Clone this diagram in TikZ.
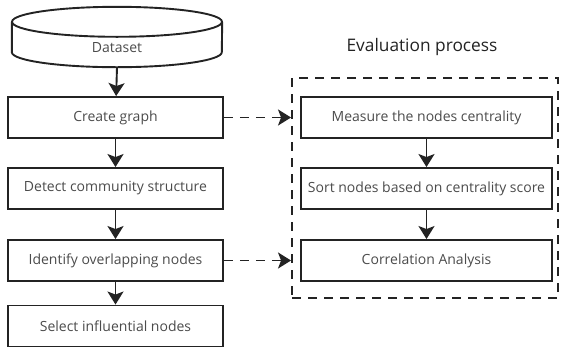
\documentclass[tikz,border=0pt]{standalone}
\usepackage{fontspec}
\setmainfont{Open Sans}
\usetikzlibrary{arrows.meta,positioning,fit}
\definecolor{ln}{RGB}{35,35,35}
\definecolor{tx}{RGB}{75,75,75}
\tikzset{stepbox/.style={draw=ln,line width=1.9pt,minimum width=215pt,minimum height=41pt,inner sep=0pt,text=tx},
 evbox/.style={stepbox,minimum width=251pt},
 db/.style={minimum width=210pt,minimum height=30pt,inner sep=0pt},
 dbline/.style={draw=ln,line width=1.9pt,line join=round},
 arr/.style={-{Stealth[length=13pt,width=16pt,inset=3pt]},draw=ln,line width=1.9pt},
 darr/.style={arr,dash pattern=on 9pt off 7pt},
 frame/.style={draw=ln,line width=1.9pt,dash pattern=on 9pt off 7pt,inner sep=0pt},
 every node/.style={font=\fontsize{14}{16}\selectfont}}
\begin{document}
\begin{tikzpicture}[x=1pt,y=-1pt]
\useasboundingbox (0,0) rectangle (565,349);
% dataset drum
\node[db,label={[text=tx,yshift=-11pt]center:Dataset}] (data) at (117,37) {};
\draw[dbline] (data.north) ellipse [x radius=105pt,y radius=15pt];
\draw[dbline] (data.north west)--(data.south west) arc[start angle=180,end angle=360,x radius=105pt,y radius=15pt]--(data.north east);
\coordinate (dbase) at ([yshift=-15pt]data.south);
\node[stepbox] (create) at (115.5,117.5) {Create graph};
\node[stepbox] (detect) at (115.5,188.5) {Detect community structure};
\node[stepbox] (ident) at (115.5,260.5) {Identify overlapping nodes};
\node[stepbox] (select) at (115.5,326) {Select influential nodes};
\node[evbox] (measure) at (426.5,117.5) {Measure the nodes centrality};
\node[evbox] (sort) at (426.5,188.5) {Sort nodes based on centrality score};
\node[evbox] (corr) at (426.5,260.5) {Correlation Analysis};
\coordinate (fnw) at (292,78);\coordinate (fse) at (558,298);
\node[frame,fit=(fnw)(fse)] (eval) {};
\node[text=ln,font=\fontsize{17.3}{20}\selectfont] (title) at (422,47) {Evaluation process};
\draw[arr] (dbase)--(create);
\draw[arr] (create)--(detect);
\draw[arr] (detect)--(ident);
\draw[arr] (ident)--(select);
\draw[arr] (measure)--(sort);
\draw[arr] (sort)--(corr);
\draw[darr] (create.east)--(create.east-|eval.west);
\draw[darr] (ident.east)--(ident.east-|eval.west);
\end{tikzpicture}
\end{document}
